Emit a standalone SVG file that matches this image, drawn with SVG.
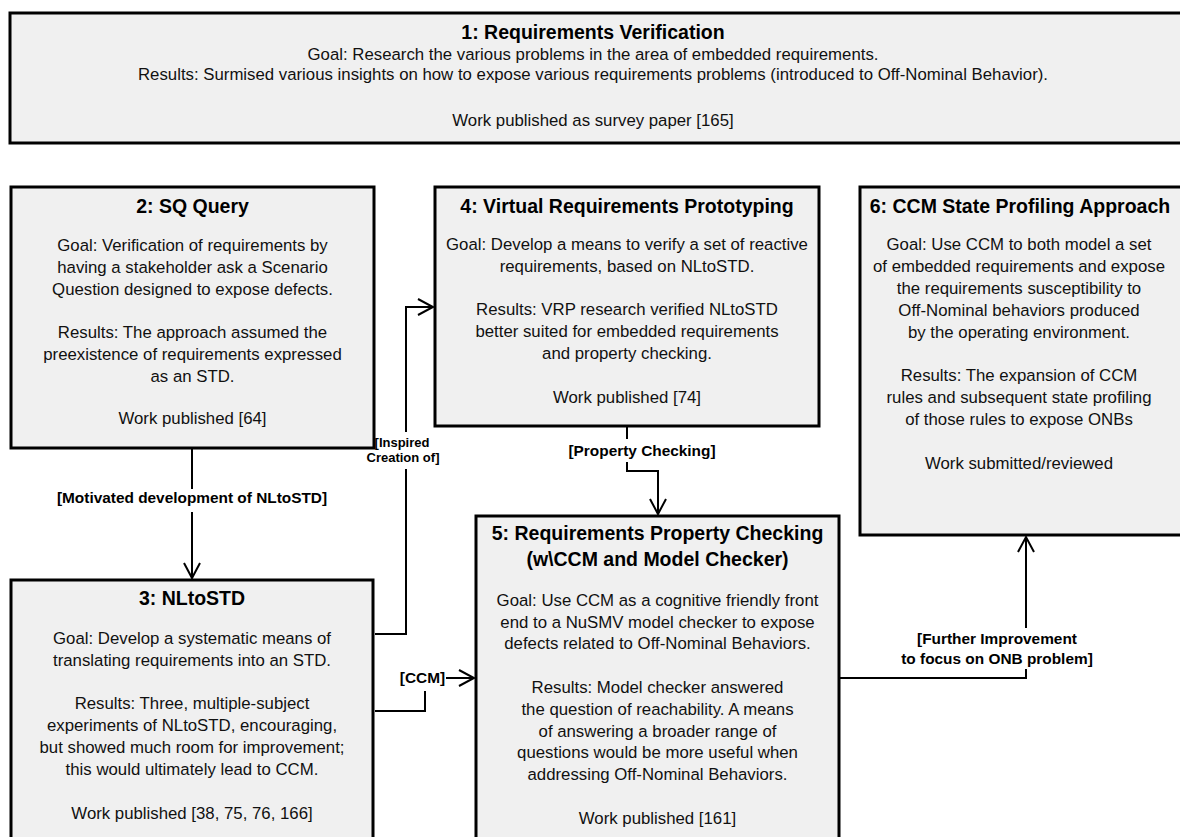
<svg xmlns="http://www.w3.org/2000/svg" width="1180" height="837" viewBox="0 0 1180 837">
  <style>
    .box { fill: #f0f0f0; stroke: #000; stroke-width: 3; }
    .title { font-family: "Liberation Sans", Arial, sans-serif; font-size: 19.5px; font-weight: bold; fill: #000; text-anchor: middle; }
    .body { font-family: "Liberation Sans", Arial, sans-serif; font-size: 16.8px; fill: #111; text-anchor: middle; }
    .edge { fill: none; stroke: #000; stroke-width: 2; }
    .lbl { font-family: "Liberation Sans", Arial, sans-serif; font-size: 15.4px; font-weight: bold; fill: #000; text-anchor: middle; }
    .lbl-sm { font-family: "Liberation Sans", Arial, sans-serif; font-size: 13px; font-weight: bold; fill: #000; text-anchor: middle; }
  </style>
  <defs>
    <marker id="open-arrow" markerUnits="userSpaceOnUse" markerWidth="20" markerHeight="20" viewBox="-16 -10 18 20" refX="0" refY="0" orient="auto">
      <path d="M-15,-8 L0,0 L-15,8" fill="none" stroke="#000" stroke-width="2"/>
    </marker>
  </defs>
  <rect width="1180" height="837" fill="#fff"/>

  <!-- 1: Requirements Verification -->
  <g id="node1">
    <rect class="box" x="10" y="13" width="1180" height="130"/>
    <text class="title" x="593" y="39">1: Requirements Verification</text>
    <text class="body" x="593" y="60">Goal: Research the various problems in the area of embedded requirements.</text>
    <text class="body" x="593" y="80">Results: Surmised various insights on how to expose various requirements problems (introduced to Off-Nominal Behavior).</text>
    <text class="body" x="593" y="126">Work published as survey paper [165]</text>
  </g>

  <!-- 2: SQ Query -->
  <g id="node2">
    <rect class="box" x="11" y="187" width="363" height="261"/>
    <text class="title" x="192.5" y="213">2: SQ Query</text>
    <text class="body" x="192.5" y="251">Goal: Verification of requirements by</text>
    <text class="body" x="192.5" y="273">having a stakeholder ask a Scenario</text>
    <text class="body" x="192.5" y="295">Question designed to expose defects.</text>
    <text class="body" x="192.5" y="338"> Results: The approach assumed the</text>
    <text class="body" x="192.5" y="360">preexistence of requirements expressed</text>
    <text class="body" x="192.5" y="382">as an STD.</text>
    <text class="body" x="192.5" y="424">Work published [64]</text>
  </g>

  <!-- 3: NLtoSTD -->
  <g id="node3">
    <rect class="box" x="11" y="580" width="362" height="300"/>
    <text class="title" x="192" y="605">3: NLtoSTD</text>
    <text class="body" x="192" y="644">Goal: Develop a systematic means of</text>
    <text class="body" x="192" y="666">translating requirements into an STD.</text>
    <text class="body" x="192" y="709">Results: Three, multiple-subject</text>
    <text class="body" x="192" y="731">experiments of NLtoSTD, encouraging,</text>
    <text class="body" x="192" y="753">but showed much room for improvement;</text>
    <text class="body" x="192" y="775">this would ultimately lead to CCM.</text>
    <text class="body" x="192" y="819">Work published [38, 75, 76, 166]</text>
  </g>

  <!-- 4: Virtual Requirements Prototyping -->
  <g id="node4">
    <rect class="box" x="435" y="187" width="384" height="239"/>
    <text class="title" x="627" y="213">4: Virtual Requirements Prototyping</text>
    <text class="body" x="627" y="250">Goal: Develop a means to verify a set of reactive</text>
    <text class="body" x="627" y="272">requirements, based on NLtoSTD.</text>
    <text class="body" x="627" y="315">Results: VRP research verified NLtoSTD</text>
    <text class="body" x="627" y="337">better suited for embedded requirements</text>
    <text class="body" x="627" y="359">and property checking.</text>
    <text class="body" x="627" y="403">Work published [74]</text>
  </g>

  <!-- 5: Requirements Property Checking -->
  <g id="node5">
    <rect class="box" x="476" y="516" width="363" height="360"/>
    <text class="title" x="657.5" y="540">5: Requirements Property Checking</text>
    <text class="title" x="657.5" y="566">(w\CCM and Model Checker)</text>
    <text class="body" x="657.5" y="606">Goal: Use CCM as a cognitive friendly front</text>
    <text class="body" x="657.5" y="628">end to a NuSMV model checker to expose</text>
    <text class="body" x="657.5" y="649">defects related to Off-Nominal Behaviors.</text>
    <text class="body" x="657.5" y="693">Results: Model checker answered</text>
    <text class="body" x="657.5" y="715">the question of reachability. A means</text>
    <text class="body" x="657.5" y="737">of answering a broader range of</text>
    <text class="body" x="657.5" y="758">questions would be more useful when</text>
    <text class="body" x="657.5" y="780">addressing Off-Nominal Behaviors.</text>
    <text class="body" x="657.5" y="824">Work published [161]</text>
  </g>

  <!-- 6: CCM State Profiling Approach -->
  <g id="node6">
    <rect class="box" x="860" y="187" width="340" height="348"/>
    <text class="title" x="1020" y="213">6: CCM State Profiling Approach</text>
    <text class="body" x="1019" y="250">Goal: Use CCM to both model a set</text>
    <text class="body" x="1019" y="272">of embedded requirements and expose</text>
    <text class="body" x="1019" y="294">the requirements susceptibility to</text>
    <text class="body" x="1019" y="316">Off-Nominal behaviors produced</text>
    <text class="body" x="1019" y="338">by the operating environment.</text>
    <text class="body" x="1019" y="381">Results: The expansion of CCM</text>
    <text class="body" x="1019" y="403">rules and subsequent state profiling</text>
    <text class="body" x="1019" y="425">of those rules to expose ONBs</text>
    <text class="body" x="1019" y="469">Work submitted/reviewed</text>
  </g>

  <!-- connectors -->
  <g id="connectors">
    <!-- 2 -> 3 -->
    <path class="edge" d="M192,449 V489"/>
    <path class="edge" d="M192,512 V578" marker-end="url(#open-arrow)"/>
    <text class="lbl" x="192" y="503">[Motivated development of NLtoSTD]</text>

    <!-- 3 -> 4 -->
    <path class="edge" d="M375,634 H406 V469"/>
    <path class="edge" d="M406,432 V307 H433" marker-end="url(#open-arrow)"/>
    <text class="lbl-sm" x="402" y="447">[Inspired</text>
    <text class="lbl-sm" x="403" y="462">Creation of]</text>

    <!-- 3 -> 5 -->
    <path class="edge" d="M375,711 H425 V691"/>
    <path class="edge" d="M446,678 H474" marker-end="url(#open-arrow)"/>
    <text class="lbl" x="422.5" y="683">[CCM]</text>

    <!-- 4 -> 5 -->
    <path class="edge" d="M627,427 V439"/>
    <path class="edge" d="M627,462 V471 H658 V514" marker-end="url(#open-arrow)"/>
    <text class="lbl" x="642" y="456">[Property Checking]</text>

    <!-- 5 -> 6 -->
    <path class="edge" d="M840,678 H1026 V669"/>
    <path class="edge" d="M1026,628 V537" marker-end="url(#open-arrow)"/>
    <text class="lbl" x="997" y="644">[Further Improvement</text>
    <text class="lbl" x="997" y="664">to focus on ONB problem]</text>
  </g>
</svg>
